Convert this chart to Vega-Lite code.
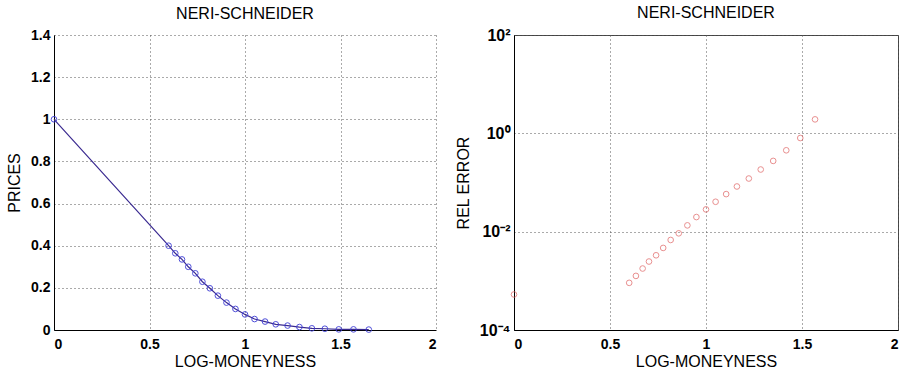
{
  "$schema": "https://vega.github.io/schema/vega-lite/v6.json",
  "background": "white",
  "padding": {"left": 6, "top": 4, "right": 5, "bottom": 0},
  "config": {
    "view": {"stroke": null},
    "axis": {
      "domainColor": "#000000",
      "domainWidth": 1,
      "ticks": false,
      "grid": true,
      "gridDash": [1, 3],
      "gridColor": "#555555",
      "gridWidth": 1,
      "labelFont": "Liberation Sans",
      "labelFontSize": 14,
      "labelFontWeight": "bold",
      "labelColor": "#000000",
      "titleFont": "Liberation Sans",
      "titleFontSize": 16,
      "titleFontWeight": "normal",
      "titleColor": "#000000"
    },
    "title": {"font": "Liberation Sans", "fontSize": 16, "fontWeight": "normal", "color": "#000000", "offset": 6}
  },
  "datasets": {
    "d": [
      {"x": 0, "price": 1.0, "relerr": 0.000528},
      {"x": 0.6, "price": 0.4, "relerr": 0.00091},
      {"x": 0.635, "price": 0.364, "relerr": 0.00126},
      {"x": 0.67, "price": 0.335, "relerr": 0.00178},
      {"x": 0.703, "price": 0.3, "relerr": 0.00247},
      {"x": 0.74, "price": 0.269, "relerr": 0.00331},
      {"x": 0.777, "price": 0.229, "relerr": 0.00467},
      {"x": 0.816, "price": 0.198, "relerr": 0.00678},
      {"x": 0.858, "price": 0.163, "relerr": 0.00925},
      {"x": 0.903, "price": 0.13, "relerr": 0.01343},
      {"x": 0.95, "price": 0.1, "relerr": 0.01982},
      {"x": 1.0, "price": 0.074, "relerr": 0.02838},
      {"x": 1.05, "price": 0.052, "relerr": 0.04055},
      {"x": 1.105, "price": 0.04, "relerr": 0.05808},
      {"x": 1.161, "price": 0.027, "relerr": 0.08299},
      {"x": 1.223, "price": 0.021, "relerr": 0.1205},
      {"x": 1.285, "price": 0.014, "relerr": 0.1837},
      {"x": 1.35, "price": 0.008, "relerr": 0.2748},
      {"x": 1.418, "price": 0.006, "relerr": 0.4519},
      {"x": 1.491, "price": 0.003, "relerr": 0.8035},
      {"x": 1.568, "price": 0.003, "relerr": 1.923},
      {"x": 1.648, "price": 0.002, "relerr": null}
    ]
  },
  "spacing": 78,
  "bounds": "flush",
  "hconcat": [
    {
      "width": 382,
      "height": 295,
      "title": "NERI-SCHNEIDER",
      "data": {"name": "d"},
      "encoding": {
        "x": {"field": "x", "type": "quantitative", "scale": {"domain": [0, 2], "nice": false, "zero": false},
              "axis": {"title": "LOG-MONEYNESS", "values": [0, 0.5, 1, 1.5, 2], "format": "~g", "labelPadding": 7, "titlePadding": 2}},
        "y": {"field": "price", "type": "quantitative", "scale": {"domain": [0, 1.4], "nice": false},
              "axis": {"title": "PRICES", "values": [0, 0.2, 0.4, 0.6, 0.8, 1, 1.2, 1.4], "format": "~g", "labelPadding": 4, "titlePadding": 8}}
      },
      "layer": [
        {"mark": {"type": "line", "color": "#3a2a90", "strokeWidth": 1.2}},
        {"mark": {"type": "point", "shape": "circle", "filled": false, "size": 32, "strokeWidth": 1, "color": "#3d3dd6", "opacity": 0.9}}
      ]
    },
    {
      "width": 384,
      "height": 295,
      "title": "NERI-SCHNEIDER",
      "view": {"stroke": "#444444", "strokeWidth": 1},
      "data": {"name": "d"},
      "transform": [{"filter": "isValid(datum.relerr)"}],
      "mark": {"type": "point", "shape": "circle", "filled": false, "size": 32, "strokeWidth": 1, "color": "#e06262"},
      "encoding": {
        "x": {"field": "x", "type": "quantitative", "scale": {"domain": [0, 2], "nice": false, "zero": false},
              "axis": {"title": "LOG-MONEYNESS", "values": [0, 0.5, 1, 1.5, 2], "format": "~g", "labelPadding": 7, "titlePadding": 2}},
        "y": {"field": "relerr", "type": "quantitative", "scale": {"type": "log", "domain": [0.0001, 100], "nice": false},
              "axis": {"title": "REL ERROR", "values": [0.0001, 0.01, 1, 100], "labelPadding": 4, "titlePadding": 8, "labelFontSize": 16,
                       "labelExpr": "datum.value >= 50 ? '10²' : datum.value >= 0.5 ? '10⁰' : datum.value >= 0.005 ? '10⁻²' : '10⁻⁴'"}}
      }
    }
  ]
}
